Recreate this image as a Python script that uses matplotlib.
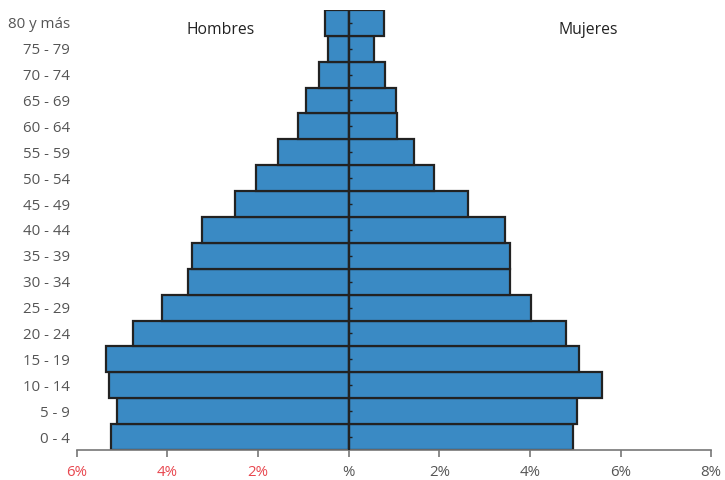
import numpy as np
import matplotlib
matplotlib.use("Agg")
import matplotlib.pyplot as plt

plt.rcParams['font.family'] = ['Open Sans', 'DejaVu Sans']

# Data (percent of population), bottom to top
age_groups = ['0 - 4', '5 - 9', '10 - 14', '15 - 19', '20 - 24', '25 - 29', '30 - 34',
              '35 - 39', '40 - 44', '45 - 49', '50 - 54', '55 - 59', '60 - 64',
              '65 - 69', '70 - 74', '75 - 79', '80 y más']
hombres = [5.24, 5.12, 5.28, 5.35, 4.75, 4.12, 3.54, 3.46, 3.24, 2.51, 2.04, 1.55,
           1.12, 0.95, 0.65, 0.45, 0.52]
mujeres = [4.95, 5.04, 5.59, 5.08, 4.79, 4.03, 3.57, 3.57, 3.44, 2.63, 1.88, 1.43,
           1.07, 1.04, 0.79, 0.55, 0.78]
x_ticks = [-6, -4, -2, 0, 2, 4, 6, 8]
x_labels = ['6%', '4%', '2%', '%', '2%', '4%', '6%', '8%']

bar_color = '#3a8ac4'
edge_color = '#222222'
text_gray = '#555555'

fig = plt.figure(figsize=(7.25, 4.8), dpi=100)
ax = fig.add_axes([0.106, 0.0625, 0.875, 0.917])

y = np.arange(len(age_groups))
ax.barh(y, -np.array(hombres), height=1.0, color=bar_color, edgecolor=edge_color, linewidth=1.6)
ax.barh(y, mujeres, height=1.0, color=bar_color, edgecolor=edge_color, linewidth=1.6)

# center line with small ticks
ax.axvline(0, color=edge_color, linewidth=1.6, zorder=5)
ax.hlines(y, 0, 0.08, color=edge_color, linewidth=1.0, zorder=5)

ax.set_xlim(-6, 8)
ax.set_ylim(-0.5, len(age_groups) - 0.5)

ax.set_yticks(y)
ax.set_yticklabels(age_groups, fontsize=10.8, color=text_gray)
ax.tick_params(axis='y', length=0, pad=5)

ax.set_xticks(x_ticks)
ax.set_xticklabels(x_labels, fontsize=10.8)
ax.tick_params(axis='x', length=5, color='#777777', width=1.2, pad=6)
for lbl, v in zip(ax.get_xticklabels(), x_ticks):
    lbl.set_color('#e8474f' if v < 0 else text_gray)

for s in ['top', 'right', 'left']:
    ax.spines[s].set_visible(False)
ax.spines['bottom'].set_color('#777777')
ax.spines['bottom'].set_linewidth(1.2)

ax.text(-2.82, 15.72, 'Hombres', ha='center', va='center', fontsize=11.3, color='#222222')
ax.text(5.29, 15.72, 'Mujeres', ha='center', va='center', fontsize=11.3, color='#222222')

fig.savefig('out.png', dpi=100)
